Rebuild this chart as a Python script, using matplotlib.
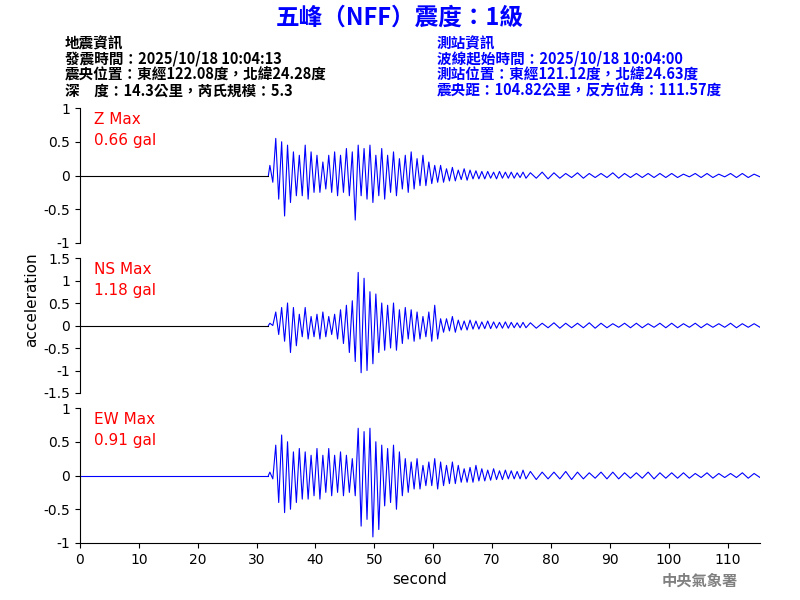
import numpy as np
import matplotlib.pyplot as plt

plt.rcParams['font.family'] = ['Noto Sans CJK TC', 'DejaVu Sans']

# peak readings per second from 32 s to 75 s, then every 2 s to 115 s
t_main = list(range(32, 76))
t_tail = list(range(77, 116, 2))

z_pos = [0.15, 0.55, 0.5, 0.45, 0.35, 0.3, 0.45, 0.35, 0.3, 0.2, 0.3, 0.35, 0.3, 0.4, 0.35, 0.45,
         0.4, 0.45, 0.3, 0.4, 0.3, 0.35, 0.25, 0.3, 0.35, 0.25, 0.3, 0.2, 0.15, 0.15, 0.1, 0.12,
         0.08, 0.1, 0.08, 0.07, 0.06, 0.06, 0.05, 0.06, 0.05, 0.05, 0.04, 0.05]
z_neg = [-0.1, -0.35, -0.6, -0.4, -0.3, -0.3, -0.35, -0.25, -0.25, -0.2, -0.25, -0.3, -0.25, -0.3,
         -0.66, -0.3, -0.35, -0.4, -0.3, -0.35, -0.25, -0.3, -0.2, -0.25, -0.2, -0.15, -0.15, -0.12,
         -0.1, -0.1, -0.08, -0.08, -0.06, -0.07, -0.05, -0.05, -0.05, -0.04, -0.05, -0.04, -0.04,
         -0.04, -0.03, -0.04]
z_tail = [0.04, 0.05, 0.04, 0.03, 0.04, 0.03, 0.03, 0.04, 0.03, 0.03, 0.03, 0.03, 0.03, 0.02,
          0.03, 0.03, 0.02, 0.03, 0.03, 0.02]

ns_pos = [0.05, 0.3, 0.4, 0.5, 0.4, 0.25, 0.4, 0.2, 0.25, 0.3, 0.2, 0.25, 0.35, 0.45, 0.55, 1.18,
          1.05, 0.75, 0.7, 0.5, 0.45, 0.5, 0.35, 0.4, 0.35, 0.3, 0.2, 0.3, 0.45, 0.15, 0.15, 0.2,
          0.12, 0.1, 0.12, 0.1, 0.08, 0.1, 0.08, 0.07, 0.08, 0.07, 0.06, 0.07]
ns_neg = [0.0, -0.2, -0.35, -0.6, -0.45, -0.25, -0.3, -0.25, -0.3, -0.25, -0.2, -0.3, -0.4, -0.6,
          -0.8, -1.05, -1.0, -0.85, -0.6, -0.55, -0.5, -0.55, -0.4, -0.3, -0.35, -0.3, -0.25, -0.35,
          -0.3, -0.15, -0.12, -0.15, -0.1, -0.1, -0.08, -0.08, -0.07, -0.07, -0.06, -0.06, -0.06,
          -0.05, -0.05, -0.05]
ns_tail = [0.06, 0.05, 0.06, 0.05, 0.05, 0.06, 0.05, 0.04, 0.05, 0.05, 0.04, 0.05, 0.05, 0.04,
           0.05, 0.04, 0.04, 0.05, 0.04, 0.04]

ew_pos = [0.05, 0.45, 0.6, 0.5, 0.35, 0.4, 0.35, 0.3, 0.4, 0.3, 0.4, 0.3, 0.35, 0.3, 0.25, 0.7,
          0.65, 0.7, 0.5, 0.45, 0.4, 0.45, 0.35, 0.25, 0.2, 0.25, 0.15, 0.2, 0.25, 0.2, 0.15, 0.2,
          0.15, 0.1, 0.12, 0.15, 0.1, 0.08, 0.1, 0.07, 0.08, 0.07, 0.06, 0.08]
ew_neg = [-0.05, -0.4, -0.55, -0.5, -0.4, -0.35, -0.35, -0.3, -0.35, -0.25, -0.3, -0.25, -0.3,
          -0.25, -0.3, -0.75, -0.65, -0.91, -0.8, -0.45, -0.4, -0.5, -0.3, -0.25, -0.2, -0.2, -0.15,
          -0.15, -0.2, -0.15, -0.12, -0.12, -0.1, -0.1, -0.1, -0.08, -0.08, -0.07, -0.06, -0.06,
          -0.05, -0.05, -0.05, -0.05]
ew_tail = [0.06, 0.05, 0.05, 0.06, 0.05, 0.04, 0.05, 0.05, 0.04, 0.04, 0.05, 0.04, 0.04, 0.04,
           0.03, 0.04, 0.03, 0.03, 0.04, 0.03]

channels = [("Z Max\n0.66 gal", z_pos, z_neg, z_tail, 1.0, "k"),
            ("NS Max\n1.18 gal", ns_pos, ns_neg, ns_tail, 1.5, "k"),
            ("EW Max\n0.91 gal", ew_pos, ew_neg, ew_tail, 1.0, "b")]


def zigzag(pos, neg, tail):
    xs, ys = [t_main[0]], [0]
    for t, p, n in zip(t_main, pos, neg):
        xs += [t + 0.25, t + 0.75]
        ys += [p, n]
    for t, a in zip(t_tail, tail):
        xs += [t - 0.5, t + 0.5]
        ys += [a, -a]
    return xs, ys


fig = plt.figure(figsize=(8, 6), dpi=100)
bottoms = [0.595, 0.345, 0.095]
for i, (label, pos, neg, tail, lim, pre) in enumerate(channels):
    ax = fig.add_axes([0.1, bottoms[i], 0.85, 0.225])
    xs, ys = zigzag(pos, neg, tail)
    ax.plot([0, 32], [0, 0], color=pre, lw=0.8)
    ax.plot(xs, ys, color="b", lw=0.8)
    ax.set_xlim(0, 115.5)
    ax.set_ylim(-lim, lim)
    ticks = np.arange(-lim, lim + 0.01, 0.5)
    ax.set_yticks(ticks)
    ax.set_yticklabels([f"{v:g}" for v in ticks], family="DejaVu Sans", fontsize=10)
    ax.tick_params(direction="out")
    for s in ["top", "right"]:
        ax.spines[s].set_visible(False)
    if i < 2:
        ax.spines["bottom"].set_visible(False)
        ax.set_xticks([])
    else:
        xt = list(range(0, 111, 10))
        ax.set_xticks(xt)
        ax.set_xticklabels([str(v) for v in xt], family="DejaVu Sans", fontsize=10)
        ax.set_xlabel("second", fontsize=11, family="DejaVu Sans")
    ax.text(0.02, 0.97, label, transform=ax.transAxes, color="red", fontsize=11,
            va="top", ha="left", family="DejaVu Sans", linespacing=1.5)

fig.text(0.04, 0.5, "acceleration", rotation=90, fontsize=11, va="center", ha="center",
         family="DejaVu Sans")
fig.text(0.5, 0.97, "五峰（NFF）震度：1級", color="blue", fontsize=17, fontweight="bold",
         ha="center", va="center")

left = ["地震資訊", "發震時間：2025/10/18 10:04:13", "震央位置：東經122.08度，北緯24.28度",
        "深　度：14.3公里，芮氏規模：5.3"]
right = ["測站資訊", "波線起始時間：2025/10/18 10:04:00", "測站位置：東經121.12度，北緯24.63度",
         "震央距：104.82公里，反方位角：111.57度"]
for k, (a, b) in enumerate(zip(left, right)):
    y = 1 - (43 + 16 * k) / 600
    fig.text(65 / 800, y, a, fontsize=10.5, fontweight="bold", va="center", color="black")
    fig.text(437 / 800, y, b, fontsize=10.5, fontweight="bold", va="center", color="blue")

fig.text(700 / 800, 1 - 581 / 600, "中央氣象署", color="gray", fontsize=11, fontweight="bold",
         ha="center", va="center", family="Noto Sans CJK TC")

fig.savefig("out.png", dpi=100)
